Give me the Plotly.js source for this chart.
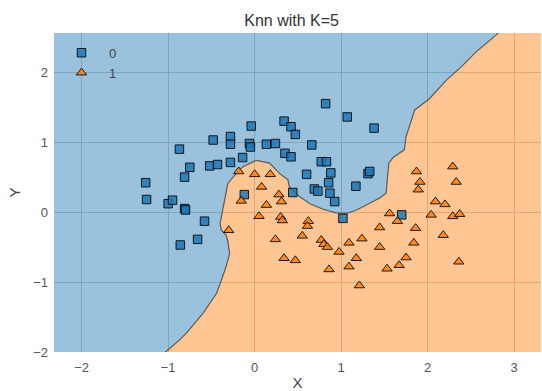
<!DOCTYPE html>
<html>
<head>
<meta charset="utf-8">
<script src="https://cdn.plot.ly/plotly-3.0.1.min.js"></script>
<style>html,body{margin:0;padding:0;background:#fff;}#chart{width:542px;height:391px;}</style>
</head>
<body>
<div id="chart"></div>
<script>
// Class 0 (squares)
const class0X = [-0.87, -0.48, -0.75, -0.52, -0.43, -0.28, -0.28, -0.04, -0.06, -0.05, 0.135, 0.24, 0.34, 0.42, 0.47, 0.82, 1.07, 1.38, 0.66, -0.14, -0.28, 0.35, 0.42, 0.77, 0.83, 0.60, 0.88, 0.855, 0.69, 0.73, 0.87, 0.925, 1.17, 1.31, 1.33, 0.44, -0.12, 1.02, -0.58, -0.66, -0.81, -1.26, -1.25, -1.0, -0.95, -0.81, -0.80, -0.86, 1.70];
const class0Y = [0.90, 1.03, 0.64, 0.66, 0.68, 1.08, 0.97, 1.23, 0.98, 0.93, 0.97, 0.98, 1.30, 1.22, 1.11, 1.55, 1.36, 1.20, 0.96, 0.78, 0.71, 0.84, 0.79, 0.72, 0.72, 0.54, 0.56, 0.42, 0.33, 0.30, 0.27, 0.15, 0.37, 0.55, 0.58, 0.28, 0.25, -0.09, -0.13, -0.39, 0.50, 0.42, 0.18, 0.12, 0.17, 0.05, 0.03, -0.47, -0.04];
// Class 1 (triangles)
const class1X = [-0.185, 0.00, 0.18, 0.08, -0.155, 0.28, 0.31, 0.135, 0.05, 0.30, 0.32, -0.30, 0.62, 0.61, 0.55, 0.24, 0.77, 0.80, 0.84, 0.975, 1.09, 1.24, 1.175, 1.09, 0.86, 0.34, 0.47, 1.21, 1.445, 1.56, 1.65, 1.445, 1.53, 1.87, 1.91, 1.89, 2.29, 2.33, 2.09, 2.20, 2.04, 2.29, 2.37, 1.86, 2.18, 1.84, 1.75, 1.67, 2.36];
const class1Y = [0.58, 0.54, 0.54, 0.36, 0.16, 0.25, 0.15, 0.10, -0.06, -0.07, -0.12, -0.26, -0.13, -0.20, -0.34, -0.39, -0.40, -0.46, -0.50, -0.57, -0.44, -0.38, -0.66, -0.78, -0.82, -0.66, -0.69, -1.05, -0.22, -0.02, -0.13, -0.50, -0.81, 0.58, 0.43, 0.32, 0.65, 0.43, 0.15, 0.11, -0.04, -0.06, -0.03, -0.23, -0.33, -0.44, -0.65, -0.76, -0.71];
// Decision boundary (traced, bottom-left to top-right)
const boundaryX = [-1.09, -1.03, -0.87, -0.79, -0.60, -0.44, -0.37, -0.33, -0.29, -0.31, -0.33, -0.385, -0.40, -0.37, -0.335, -0.31, -0.25, -0.135, 0.02, 0.17, 0.29, 0.385, 0.40, 0.52, 0.64, 0.79, 0.94, 1.06, 1.18, 1.29, 1.445, 1.52, 1.53, 1.54, 1.55, 1.60, 1.73, 1.75, 1.81, 1.85, 2.02, 2.22, 2.39, 2.56, 2.81, 2.87];
const boundaryY = [-2.09, -2.0, -1.83, -1.73, -1.45, -1.16, -0.92, -0.78, -0.59, -0.42, -0.33, -0.26, -0.16, 0.03, 0.22, 0.41, 0.50, 0.65, 0.74, 0.70, 0.55, 0.46, 0.36, 0.22, 0.12, 0.04, -0.01, -0.02, 0.03, 0.10, 0.20, 0.27, 0.46, 0.65, 0.70, 0.78, 0.89, 1.08, 1.31, 1.46, 1.62, 1.89, 2.08, 2.29, 2.55, 2.64];
const classNames = ["0", "1"];
const xRange = [-2.32, 3.31];
const yRange = [-2.0, 2.56];

const pad = 0.3;
const bottomY = yRange[0] - pad, topY = yRange[1] + pad;
const blueX = boundaryX.concat([boundaryX[boundaryX.length-1], xRange[0]-pad, xRange[0]-pad, boundaryX[0]]);
const blueY = boundaryY.concat([topY, topY, bottomY, bottomY]);
const orangeX = boundaryX.concat([boundaryX[boundaryX.length-1], xRange[1]+pad, xRange[1]+pad, boundaryX[0]]);
const orangeY = boundaryY.concat([topY, topY, bottomY, bottomY]);

const traces = [
  {x: blueX, y: blueY, type: 'scatter', mode: 'lines', fill: 'toself',
   fillcolor: 'rgba(31,119,180,0.45)', line: {width: 0}, hoverinfo: 'skip', showlegend: false},
  {x: orangeX, y: orangeY, type: 'scatter', mode: 'lines', fill: 'toself',
   fillcolor: 'rgba(255,127,14,0.45)', line: {width: 0}, hoverinfo: 'skip', showlegend: false},
  {x: boundaryX, y: boundaryY, type: 'scatter', mode: 'lines',
   line: {color: 'rgba(70,70,70,0.85)', width: 1.2}, hoverinfo: 'skip', showlegend: false},
  {x: class0X, y: class0Y, type: 'scatter', mode: 'markers', name: classNames[0],
   marker: {symbol: 'square', size: 8.5, color: 'rgba(31,119,180,0.85)', line: {color: 'rgba(0,0,0,0.85)', width: 1}}},
  {x: class1X, y: class1Y, type: 'scatter', mode: 'markers', name: classNames[1],
   marker: {symbol: 'triangle-up', size: 9, color: 'rgba(255,127,14,0.85)', line: {color: 'rgba(0,0,0,0.85)', width: 1}}}
];

const axisCommon = {
  showgrid: true, gridcolor: '#c8c8c8', gridwidth: 1, zeroline: false,
  showline: false, ticks: '', dtick: 1, tick0: 0,
  tickfont: {family: 'Liberation Sans, Arial, sans-serif', size: 13, color: '#555555'}
};

const layout = {
  width: 542, height: 391,
  margin: {l: 54, r: 1, t: 33, b: 39},
  paper_bgcolor: '#ffffff', plot_bgcolor: '#ffffff',
  font: {family: 'Liberation Sans, Arial, sans-serif', color: '#333333'},
  title: {text: 'Knn with K=5', font: {size: 16, color: '#333333'},
          xref: 'container', x: 0.538, xanchor: 'center', yref: 'container', y: 0.948, yanchor: 'middle'},
  xaxis: Object.assign({}, axisCommon, {range: xRange, ticklabelstandoff: 6,
          title: {text: 'X', standoff: 6, font: {size: 15, color: '#444444'}}}),
  yaxis: Object.assign({}, axisCommon, {range: yRange, ticklabelstandoff: 5,
          title: {text: 'Y', standoff: 8, font: {size: 15, color: '#444444'}}}),
  legend: {x: 0.0, y: 0.985, xanchor: 'left', yanchor: 'top', bgcolor: 'rgba(0,0,0,0)',
           borderwidth: 0, itemwidth: 45, font: {size: 13, color: '#444444'}, tracegroupgap: 0},
  showlegend: true
};

Plotly.newPlot('chart', traces, layout, {displayModeBar: false, staticPlot: true});
</script>
</body>
</html>
